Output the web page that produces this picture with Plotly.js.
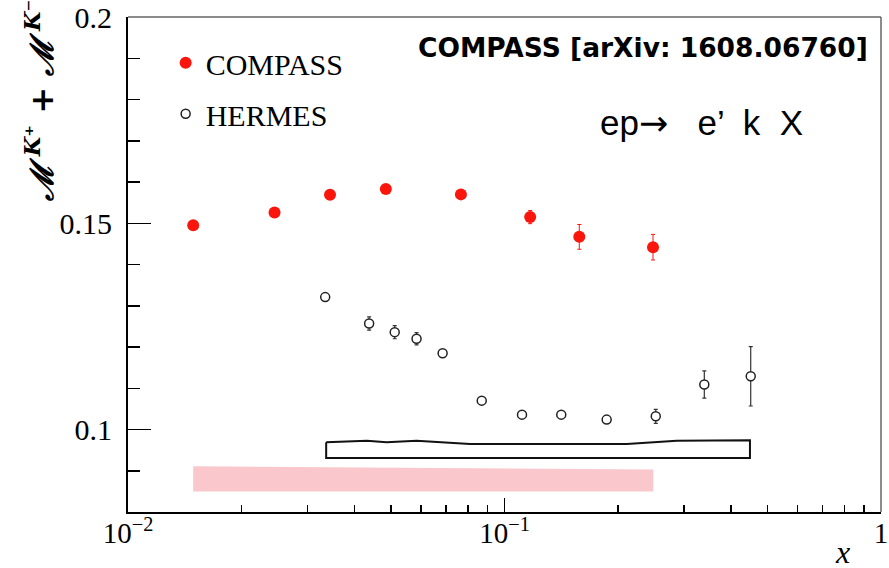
<!DOCTYPE html>
<html>
<head>
<meta charset="utf-8">
<script src="https://cdn.plot.ly/plotly-3.0.1.min.js"></script>
<style>html,body{margin:0;padding:0;background:#fff;}#chart{width:889px;height:568px;}</style>
</head>
<body>
<div id="chart"></div>
<script>
// COMPASS data (red)
const compassX = [0.0149, 0.0245, 0.0344, 0.0484, 0.0766, 0.117, 0.158, 0.248];
const compassY = [0.1495, 0.1526, 0.1569, 0.1583, 0.1570, 0.1515, 0.1467, 0.1442];
const compassErr = [0.0006, 0.0006, 0.0006, 0.0006, 0.0006, 0.0016, 0.0030, 0.0031];
// HERMES data (open circles)
const hermesX = [0.0334, 0.0437, 0.0511, 0.0584, 0.0685, 0.0870, 0.1113, 0.1415, 0.1868, 0.2522, 0.3394, 0.4508];
const hermesY = [0.1321, 0.1257, 0.1236, 0.1220, 0.1185, 0.1070, 0.1036, 0.1036, 0.1024, 0.1032, 0.1109, 0.1129];
const hermesErr = [0.0006, 0.0016, 0.0016, 0.0015, 0.0006, 0.0006, 0.0006, 0.0006, 0.0006, 0.0017, 0.0033, 0.0072];
// HERMES systematic box
const hermesSysX = [0.0336, 0.0431, 0.0486, 0.0584, 0.0810, 0.1404, 0.2112, 0.2867, 0.4487];
const hermesSysTop = [0.0969, 0.0973, 0.0969, 0.0973, 0.0965, 0.0964, 0.0965, 0.0973, 0.0974];
const hermesSysBottom = 0.0931;
// COMPASS systematic band
const compassSysX = [0.0149, 0.0600, 0.2484];
const compassSysTop = [0.0911, 0.0907, 0.0903];
const compassSysBottom = 0.0850;
// x tick labels
const xTickVals = [0.01, 0.1, 1];
const xTickText = ['10<sup>−2</sup>', '10<sup>−1</sup>', '1'];

const red = 'rgb(250,22,12)';

const boxX = hermesSysX.concat([hermesSysX[hermesSysX.length-1], hermesSysX[0], hermesSysX[0]]);
const boxY = hermesSysTop.concat([hermesSysBottom, hermesSysBottom, hermesSysTop[0]]);
const bandX = compassSysX.concat([compassSysX[compassSysX.length-1], compassSysX[0]]);
const bandY = compassSysTop.concat([compassSysBottom, compassSysBottom]);

const traces = [
  {x: bandX, y: bandY, type: 'scatter', mode: 'lines', fill: 'toself', fillcolor: 'rgb(249,199,204)',
   line: {width: 0, color: 'rgb(249,199,204)'}, showlegend: false, hoverinfo: 'skip'},
  {x: boxX, y: boxY, type: 'scatter', mode: 'lines', line: {width: 2, color: '#111'}, showlegend: false, hoverinfo: 'skip'},
  {x: compassX, y: compassY, type: 'scatter', mode: 'markers', name: 'COMPASS', legendgroup: 'a',
   marker: {symbol: 'circle', size: 12, color: red},
   error_y: {type: 'data', array: compassErr, visible: true, color: red, thickness: 1, width: 2}},
  {x: hermesX, y: hermesY, type: 'scatter', mode: 'markers', name: 'HERMES', legendgroup: 'b',
   marker: {symbol: 'circle', size: 9, color: 'white', line: {color: '#222', width: 1.5}},
   error_y: {type: 'data', array: hermesErr, visible: true, color: '#333', thickness: 1.2, width: 2}}
];

const tickFont = {family: 'Liberation Serif, Times New Roman, serif', size: 30, color: '#000'};

const layout = {
  width: 889, height: 568,
  margin: {l: 128, r: 8, t: 17, b: 56, pad: 0},
  paper_bgcolor: '#fff', plot_bgcolor: '#fff',
  font: {family: 'Liberation Serif, serif', color: '#000'},
  showlegend: true,
  legend: {x: 0.05, y: 0.96, xanchor: 'left', yanchor: 'top', bgcolor: 'rgba(0,0,0,0)',
           font: {family: 'Liberation Serif, serif', size: 30, color: '#000'}, tracegroupgap: 9},
  xaxis: {type: 'log', range: [-2, 0], tickmode: 'array', tickvals: xTickVals, ticktext: xTickText,
          ticks: 'inside', ticklen: 14, tickwidth: 1.5, tickcolor: '#000',
          showline: true, linecolor: '#000', linewidth: 2, showgrid: false, zeroline: false,
          tickfont: {family: 'Liberation Serif, Times New Roman, serif', size: 29, color: '#000'},
          ticklabelstandoff: -6, ticklabeloverflow: 'allow',
          minor: {dtick: 'D1', ticks: 'inside', ticklen: 7, tickwidth: 1.5, tickcolor: '#000', showgrid: false}},
  yaxis: {range: [0.08, 0.2], dtick: 0.05, tick0: 0, ticks: 'inside', ticklen: 23, tickwidth: 1.5, tickcolor: '#000',
          showline: true, linecolor: '#000', linewidth: 2, showgrid: false, zeroline: false,
          tickfont: tickFont, ticklabelstandoff: 8,
          minor: {dtick: 0.01, tick0: 0, ticks: 'inside', ticklen: 12, tickwidth: 1.5, tickcolor: '#000', showgrid: false}},
  shapes: [
    {type: 'line', xref: 'paper', yref: 'paper', x0: 0, x1: 1, y0: 1, y1: 1, line: {color: '#666', width: 1.5}},
    {type: 'line', xref: 'paper', yref: 'paper', x0: 1, x1: 1, y0: 0, y1: 1, line: {color: '#666', width: 1.5}}
  ],
  annotations: [
    {text: '<b>COMPASS [arXiv: 1608.06760]</b>', xref: 'paper', yref: 'paper', x: 0.684, y: 0.939,
     xanchor: 'center', yanchor: 'middle', showarrow: false,
     font: {family: 'DejaVu Sans, sans-serif', size: 26.5, color: '#000'}},
    {text: 'ep<span style="font-family:DejaVu Sans">→</span>   e’  k  X', xref: 'paper', yref: 'paper', x: 0.761, y: 0.786,
     xanchor: 'center', yanchor: 'middle', showarrow: false,
     font: {family: 'Liberation Sans, Arial, sans-serif', size: 35, color: '#000'}},
    {text: 'ℳ<sup> K⁺</sup> + ℳ<sup> K⁻</sup>', xref: 'paper', yref: 'paper', x: -0.117, y: 0.83,
     xanchor: 'center', yanchor: 'middle', showarrow: false, textangle: -90,
     font: {family: 'DejaVu Serif, serif', size: 32, color: '#000', style: 'italic', weight: 'bold'}},
    {text: '<i>x</i>', xref: 'paper', yref: 'paper', x: 0.9495, y: -0.08,
     xanchor: 'center', yanchor: 'middle', showarrow: false,
     font: {family: 'Liberation Serif, serif', size: 32, color: '#000'}}
  ]
};

Plotly.newPlot('chart', traces, layout, {displayModeBar: false, staticPlot: true});
</script>
</body>
</html>
